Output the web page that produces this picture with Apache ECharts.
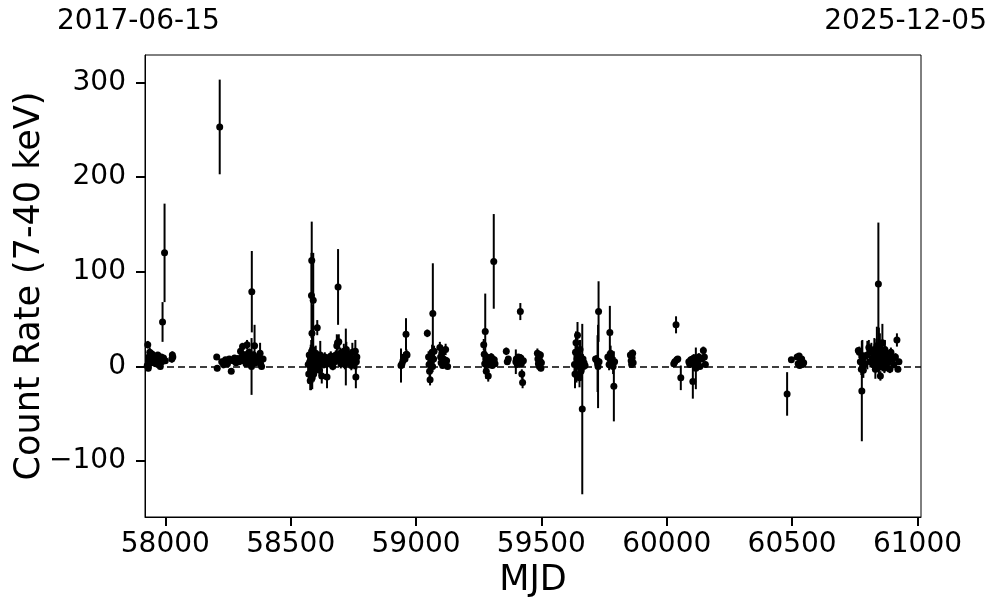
<!DOCTYPE html>
<html><head><meta charset="utf-8">
<script src="https://cdn.jsdelivr.net/npm/echarts@6/dist/echarts.min.js"></script>
<style>html,body{margin:0;padding:0;background:#fff}#c{width:997px;height:613px}</style>
</head><body><div id="c"></div>
<script>
// ---- data (MJD, count rate 7-40 keV, 1-sigma error) ----
const mjd = [
  57928,57930,57932,57934,57936,57938,57940,57942,57944,57946,57948,57950,57952,57955,57958,57960,57962,57965,57968,57970,57972,57975,57978,57980,57982,57984,57986,57989,57993,57997,58000,58026,58028,58030,
  58205,58207,58217,58225,58232,58240,58248,58255,58263,58270,58276,58282,58288,58294,58300,58304,58308,58312,58318,58322,58326,58330,58334,58338,58341,58344,58345,58348,58352,58356,58360,58366,58372,58378,58380,58384,58390,
  58570,58572,58574,58576,58578,58580,58581,58582,58583,58584,58585,58586,58587,58588,58590,58591,58592,58594,58596,58598,58600,58603,58606,58608,58612,58615,58618,58620,58624,58628,58632,58636,58640,58645,58650,58655,58660,58664,58668,58672,58676,58680,58684,58687,58689,58692,58695,58698,58700,58704,58708,58712,58716,58720,58722,58726,58730,58734,58738,58742,58746,58750,58754,58758,58760,58762,58764,
  58940,58944,58948,58952,58956,58960,58962,58964,59045,59050,59052,59054,59056,59060,59064,59066,59067,59070,59072,59095,59098,59100,59103,59106,59110,59114,59118,59122,59126,
  59270,59272,59274,59276,59278,59280,59282,59285,59288,59290,59293,59296,59300,59304,59310,59312,59315,59360,59364,59368,59398,59400,59404,59408,59416,59418,59420,59422,59425,59428,59484,59486,59488,59490,59492,59494,59496,59498,59500,
  59632,59634,59636,59638,59640,59642,59644,59646,59648,59650,59652,59654,59656,59658,59660,59663,59666,59668,59670,59674,59716,59719,59724,59726,59728,59730,59765,59770,59773,59776,59780,59786,59789,59792,59855,59858,59860,59862,59864,59866,
  60028,60032,60037,60040,60044,60056,60088,60092,60096,60100,60104,60108,60112,60116,60120,60124,60128,60132,60140,60146,60150,60154,
  60480,60497,60520,60524,60528,60530,60534,60538,60542,60546,
  60764,60768,60772,60776,60778,60780,60782,60784,60786,60790,60800,60806,60812,60816,60820,60824,60828,60830,60832,60834,60836,60838,60840,60842,60844,60846,60848,60850,60852,60854,60856,60858,60860,60862,60864,60866,60868,60870,60874,60878,60882,60886,60890,60894,60900,60906,60912,60918,60922,60926
];
const rate = [
  1,23,-2,10,6,15,8,12,4,9,13,7,11,5,10,8,3,9,6,12,4,8,2,0,7,10,5,47,9,120,6,8,12,10,
  10,-2,253,5,2,7,3,8,-5,6,9,4,8,5,16,10,21,6,12,3,23,8,15,5,10,0,79,6,12,22,4,9,7,14,3,0,8,
  2,-8,12,5,-15,8,-5,3,75,112,35,-12,18,0,70,6,-8,10,4,-3,14,7,41,2,9,-4,12,4,-10,6,2,10,5,-11,8,3,11,7,0,9,5,12,22,25,84,26,8,14,3,10,6,16,2,10,18,6,12,4,9,1,15,7,3,16,-11,5,10,
  1,3,6,10,8,34,13,12,35,10,2,-5,-14,5,15,0,56,8,16,20,10,4,14,1,8,2,18,6,0,
  23,13,3,37,8,-5,10,5,-10,2,8,4,10,1,111,7,3,16,5,8,5,8,2,10,58,9,3,-8,-17,6,14,8,3,10,0,6,12,-2,4,
  2,-8,15,25,-9,8,33,10,0,5,-12,18,3,-5,6,-45,8,0,4,1,8,7,3,0,58,5,10,2,36,14,8,0,-21,5,12,6,2,9,14,4,
  3,5,44,7,8,-12,5,2,7,4,-16,9,1,-2,6,3,10,0,8,17,10,2,
  -29,7,10,3,11,1,6,8,2,4,
  17,15,5,-3,-26,8,0,-4,10,3,12,20,5,15,8,2,18,10,-3,6,14,22,4,12,87,16,0,20,-10,6,11,3,25,9,1,14,-2,18,7,12,4,10,-3,15,8,2,10,28,-3,5
];
const err = [
  3,4,3,4,3,5,3,4,3,3,4,3,3,3,3,3,3,3,3,3,3,3,3,3,3,3,3,21,3,52,3,4,4,3,
  3,3,50,3,4,3,3,3,3,3,3,3,4,3,4,3,4,3,4,3,5,3,4,3,4,30,43,3,4,22,3,3,4,11,3,3,3,
  8,10,6,12,10,15,20,25,45,41,30,12,10,15,50,8,8,6,5,6,8,5,8,5,6,6,15,5,8,5,4,5,5,12,5,4,5,4,4,5,4,5,12,8,40,8,6,6,5,5,4,8,5,30,8,5,6,4,5,5,10,5,6,12,12,8,6,
  18,5,4,5,4,17,5,4,4,6,5,6,6,5,8,6,53,5,6,6,5,4,8,3,4,3,6,4,3,
  6,5,10,40,5,8,4,5,6,4,4,3,4,3,50,4,3,4,3,3,13,4,3,3,9,4,3,5,6,3,5,4,3,4,3,3,4,3,3,
  10,15,10,12,8,10,14,6,10,8,10,10,6,8,8,90,5,5,4,3,3,5,30,44,32,4,5,6,28,8,5,8,37,5,5,4,3,4,4,3,
  3,3,9,3,3,13,3,3,4,3,18,4,3,22,4,3,4,3,3,4,4,3,
  23,3,3,3,3,3,3,3,3,3,
  3,6,8,6,53,20,10,8,5,4,15,8,6,10,5,6,12,8,10,8,15,20,10,8,65,25,5,15,5,10,8,6,20,7,5,6,5,10,6,5,6,4,4,5,4,4,4,7,3,3
];
const xTicks = [58000, 58500, 59000, 59500, 60000, 60500, 61000];
const yTicks = [-100, 0, 100, 200, 300];
const dateStart = '2017-06-15';
const dateEnd = '2025-12-05';
const xMin = 57919, xMax = 61014;
const yMin = -159, yMax = 329;

const FONT = 'DejaVu Sans';
const points = mjd.map((m, i) => [m, rate[i]]);
const bars = mjd.map((m, i) => [m, rate[i] - err[i], rate[i] + err[i]]);
const minus = v => String(v).replace('-', '\u2212');

const chart = echarts.init(document.getElementById('c'), null, {renderer: 'canvas'});
chart.setOption({
  animation: false,
  backgroundColor: '#fff',
  grid: {left: 145, right: 76, top: 55, bottom: 96, containLabel: false, outerBoundsMode: 'none',
         show: true, borderColor: '#000', borderWidth: 1, backgroundColor: 'transparent'},
  graphic: [
    {type: 'text', left: 57, top: 8, style: {text: dateStart, fontSize: 28, fontFamily: FONT, fill: '#000'}},
    {type: 'text', right: 10, top: 8, style: {text: dateEnd, fontSize: 28, fontFamily: FONT, fill: '#000'}}
  ],
  xAxis: {
    type: 'value', min: xMin, max: xMax,
    name: 'MJD', nameLocation: 'middle', nameGap: 46, nameMoveOverlap: false,
    nameTextStyle: {fontSize: 35, fontFamily: FONT, color: '#000'},
    axisLine: {show: true, onZero: false, lineStyle: {color: '#000', width: 1}},
    axisTick: {show: true, customValues: xTicks, length: 9, lineStyle: {color: '#000', width: 2}},
    axisLabel: {customValues: xTicks, fontSize: 28, fontFamily: FONT, color: '#000', margin: 14, formatter: v => String(v)},
    splitLine: {show: false}
  },
  yAxis: {
    type: 'value', min: yMin, max: yMax,
    name: 'Count Rate (7-40 keV)', nameLocation: 'middle', nameGap: 98, nameRotate: 90, nameMoveOverlap: false,
    nameTextStyle: {fontSize: 35, fontFamily: FONT, color: '#000'},
    axisLine: {show: true, onZero: false, lineStyle: {color: '#000', width: 1}},
    axisTick: {show: true, customValues: yTicks, length: 9, lineStyle: {color: '#000', width: 2}},
    axisLabel: {customValues: yTicks, fontSize: 28, fontFamily: FONT, color: '#000', margin: 19, formatter: minus},
    splitLine: {show: false}
  },
  series: [
    {
      type: 'custom', z: 2,
      data: bars,
      encode: {x: 0, y: [1, 2]},
      renderItem: function (params, api) {
        const x = api.value(0);
        const p1 = api.coord([x, api.value(1)]);
        const p2 = api.coord([x, api.value(2)]);
        return {type: 'line', shape: {x1: p1[0], y1: p1[1], x2: p2[0], y2: p2[1]},
                style: {stroke: '#000', lineWidth: 2}};
      },
      silent: true
    },
    {
      type: 'scatter', z: 3,
      data: points,
      symbol: 'circle', symbolSize: 7,
      itemStyle: {color: '#000', opacity: 1},
      silent: true,
      markLine: {
        silent: true, symbol: 'none', animation: false,
        label: {show: false},
        lineStyle: {color: '#000', type: [7, 4], width: 1.5},
        data: [{yAxis: 0}]
      }
    }
  ]
});
</script>
</body></html>
